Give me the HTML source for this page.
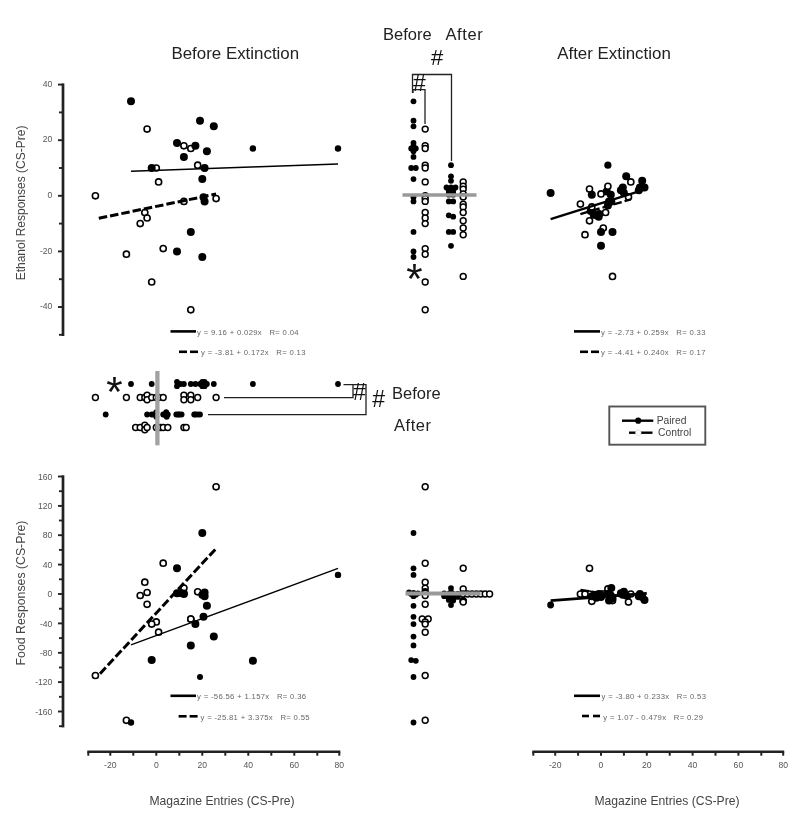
<!DOCTYPE html>
<html lang="en"><head><meta charset="utf-8"><title>Figure</title>
<style>html,body{margin:0;padding:0;background:#fff}svg{display:block;filter:blur(0.42px)}</style>
</head><body>
<svg width="800" height="835" viewBox="0 0 800 835" font-family='"Liberation Sans", Arial, Helvetica, sans-serif'>
<rect width="800" height="835" fill="#fff"/>
<text x="235.3" y="58.8" font-size="16.9" text-anchor="middle" fill="#222">Before Extinction</text>
<text x="614.0" y="58.8" font-size="16.9" text-anchor="middle" fill="#222">After Extinction</text>
<text x="383.0" y="39.6" font-size="16.5" text-anchor="start" fill="#222">Before</text>
<text x="445.5" y="39.6" font-size="16.5" text-anchor="start" fill="#222" letter-spacing="0.6">After</text>
<line x1="63.0" y1="83.4" x2="63.0" y2="336.0" stroke="#222" stroke-width="2.7" stroke-linecap="butt"/>
<line x1="59.0" y1="334.8" x2="63.0" y2="334.8" stroke="#222" stroke-width="1.9" stroke-linecap="butt"/>
<line x1="58.0" y1="307.0" x2="63.0" y2="307.0" stroke="#222" stroke-width="1.9" stroke-linecap="butt"/>
<text x="52.4" y="309.2" font-size="8.6" text-anchor="end" fill="#555">-40</text>
<line x1="59.0" y1="279.2" x2="63.0" y2="279.2" stroke="#222" stroke-width="1.9" stroke-linecap="butt"/>
<line x1="58.0" y1="251.4" x2="63.0" y2="251.4" stroke="#222" stroke-width="1.9" stroke-linecap="butt"/>
<text x="52.4" y="253.6" font-size="8.6" text-anchor="end" fill="#555">-20</text>
<line x1="59.0" y1="223.6" x2="63.0" y2="223.6" stroke="#222" stroke-width="1.9" stroke-linecap="butt"/>
<line x1="58.0" y1="195.8" x2="63.0" y2="195.8" stroke="#222" stroke-width="1.9" stroke-linecap="butt"/>
<text x="52.4" y="198.0" font-size="8.6" text-anchor="end" fill="#555">0</text>
<line x1="59.0" y1="168.0" x2="63.0" y2="168.0" stroke="#222" stroke-width="1.9" stroke-linecap="butt"/>
<line x1="58.0" y1="140.2" x2="63.0" y2="140.2" stroke="#222" stroke-width="1.9" stroke-linecap="butt"/>
<text x="52.4" y="142.4" font-size="8.6" text-anchor="end" fill="#555">20</text>
<line x1="59.0" y1="112.4" x2="63.0" y2="112.4" stroke="#222" stroke-width="1.9" stroke-linecap="butt"/>
<line x1="58.0" y1="84.6" x2="63.0" y2="84.6" stroke="#222" stroke-width="1.9" stroke-linecap="butt"/>
<text x="52.4" y="86.8" font-size="8.6" text-anchor="end" fill="#555">40</text>
<line x1="63.0" y1="475.3" x2="63.0" y2="727.4" stroke="#222" stroke-width="2.7" stroke-linecap="butt"/>
<line x1="59.0" y1="726.2" x2="63.0" y2="726.2" stroke="#222" stroke-width="1.9" stroke-linecap="butt"/>
<line x1="58.0" y1="711.5" x2="63.0" y2="711.5" stroke="#222" stroke-width="1.9" stroke-linecap="butt"/>
<text x="52.4" y="714.6" font-size="8.6" text-anchor="end" fill="#555">-160</text>
<line x1="59.0" y1="696.8" x2="63.0" y2="696.8" stroke="#222" stroke-width="1.9" stroke-linecap="butt"/>
<line x1="58.0" y1="682.1" x2="63.0" y2="682.1" stroke="#222" stroke-width="1.9" stroke-linecap="butt"/>
<text x="52.4" y="685.2" font-size="8.6" text-anchor="end" fill="#555">-120</text>
<line x1="59.0" y1="667.5" x2="63.0" y2="667.5" stroke="#222" stroke-width="1.9" stroke-linecap="butt"/>
<line x1="58.0" y1="652.8" x2="63.0" y2="652.8" stroke="#222" stroke-width="1.9" stroke-linecap="butt"/>
<text x="52.4" y="655.9" font-size="8.6" text-anchor="end" fill="#555">-80</text>
<line x1="59.0" y1="638.1" x2="63.0" y2="638.1" stroke="#222" stroke-width="1.9" stroke-linecap="butt"/>
<line x1="58.0" y1="623.4" x2="63.0" y2="623.4" stroke="#222" stroke-width="1.9" stroke-linecap="butt"/>
<text x="52.4" y="626.5" font-size="8.6" text-anchor="end" fill="#555">-40</text>
<line x1="59.0" y1="608.7" x2="63.0" y2="608.7" stroke="#222" stroke-width="1.9" stroke-linecap="butt"/>
<line x1="58.0" y1="594.0" x2="63.0" y2="594.0" stroke="#222" stroke-width="1.9" stroke-linecap="butt"/>
<text x="52.4" y="597.1" font-size="8.6" text-anchor="end" fill="#555">0</text>
<line x1="59.0" y1="579.3" x2="63.0" y2="579.3" stroke="#222" stroke-width="1.9" stroke-linecap="butt"/>
<line x1="58.0" y1="564.6" x2="63.0" y2="564.6" stroke="#222" stroke-width="1.9" stroke-linecap="butt"/>
<text x="52.4" y="567.7" font-size="8.6" text-anchor="end" fill="#555">40</text>
<line x1="59.0" y1="549.9" x2="63.0" y2="549.9" stroke="#222" stroke-width="1.9" stroke-linecap="butt"/>
<line x1="58.0" y1="535.2" x2="63.0" y2="535.2" stroke="#222" stroke-width="1.9" stroke-linecap="butt"/>
<text x="52.4" y="538.3" font-size="8.6" text-anchor="end" fill="#555">80</text>
<line x1="59.0" y1="520.5" x2="63.0" y2="520.5" stroke="#222" stroke-width="1.9" stroke-linecap="butt"/>
<line x1="58.0" y1="505.9" x2="63.0" y2="505.9" stroke="#222" stroke-width="1.9" stroke-linecap="butt"/>
<text x="52.4" y="509.0" font-size="8.6" text-anchor="end" fill="#555">120</text>
<line x1="59.0" y1="491.2" x2="63.0" y2="491.2" stroke="#222" stroke-width="1.9" stroke-linecap="butt"/>
<line x1="58.0" y1="476.5" x2="63.0" y2="476.5" stroke="#222" stroke-width="1.9" stroke-linecap="butt"/>
<text x="52.4" y="479.6" font-size="8.6" text-anchor="end" fill="#555">160</text>
<line x1="87.3" y1="751.7" x2="340.3" y2="751.7" stroke="#222" stroke-width="2.6" stroke-linecap="butt"/>
<line x1="88.3" y1="751.7" x2="88.3" y2="755.7" stroke="#222" stroke-width="2.0" stroke-linecap="butt"/>
<line x1="110.3" y1="751.7" x2="110.3" y2="755.7" stroke="#222" stroke-width="2.0" stroke-linecap="butt"/>
<text x="110.3" y="767.7" font-size="8.6" text-anchor="middle" fill="#555">-20</text>
<line x1="133.3" y1="751.7" x2="133.3" y2="755.7" stroke="#222" stroke-width="2.0" stroke-linecap="butt"/>
<line x1="156.3" y1="751.7" x2="156.3" y2="755.7" stroke="#222" stroke-width="2.0" stroke-linecap="butt"/>
<text x="156.3" y="767.7" font-size="8.6" text-anchor="middle" fill="#555">0</text>
<line x1="179.3" y1="751.7" x2="179.3" y2="755.7" stroke="#222" stroke-width="2.0" stroke-linecap="butt"/>
<line x1="202.3" y1="751.7" x2="202.3" y2="755.7" stroke="#222" stroke-width="2.0" stroke-linecap="butt"/>
<text x="202.3" y="767.7" font-size="8.6" text-anchor="middle" fill="#555">20</text>
<line x1="225.3" y1="751.7" x2="225.3" y2="755.7" stroke="#222" stroke-width="2.0" stroke-linecap="butt"/>
<line x1="248.3" y1="751.7" x2="248.3" y2="755.7" stroke="#222" stroke-width="2.0" stroke-linecap="butt"/>
<text x="248.3" y="767.7" font-size="8.6" text-anchor="middle" fill="#555">40</text>
<line x1="271.3" y1="751.7" x2="271.3" y2="755.7" stroke="#222" stroke-width="2.0" stroke-linecap="butt"/>
<line x1="294.3" y1="751.7" x2="294.3" y2="755.7" stroke="#222" stroke-width="2.0" stroke-linecap="butt"/>
<text x="294.3" y="767.7" font-size="8.6" text-anchor="middle" fill="#555">60</text>
<line x1="317.3" y1="751.7" x2="317.3" y2="755.7" stroke="#222" stroke-width="2.0" stroke-linecap="butt"/>
<line x1="339.3" y1="751.7" x2="339.3" y2="755.7" stroke="#222" stroke-width="2.0" stroke-linecap="butt"/>
<text x="339.3" y="767.7" font-size="8.6" text-anchor="middle" fill="#555">80</text>
<line x1="532.3" y1="751.7" x2="784.2" y2="751.7" stroke="#222" stroke-width="2.6" stroke-linecap="butt"/>
<line x1="533.3" y1="751.7" x2="533.3" y2="755.7" stroke="#222" stroke-width="2.0" stroke-linecap="butt"/>
<line x1="555.2" y1="751.7" x2="555.2" y2="755.7" stroke="#222" stroke-width="2.0" stroke-linecap="butt"/>
<text x="555.2" y="767.7" font-size="8.6" text-anchor="middle" fill="#555">-20</text>
<line x1="578.1" y1="751.7" x2="578.1" y2="755.7" stroke="#222" stroke-width="2.0" stroke-linecap="butt"/>
<line x1="601.0" y1="751.7" x2="601.0" y2="755.7" stroke="#222" stroke-width="2.0" stroke-linecap="butt"/>
<text x="601.0" y="767.7" font-size="8.6" text-anchor="middle" fill="#555">0</text>
<line x1="623.9" y1="751.7" x2="623.9" y2="755.7" stroke="#222" stroke-width="2.0" stroke-linecap="butt"/>
<line x1="646.8" y1="751.7" x2="646.8" y2="755.7" stroke="#222" stroke-width="2.0" stroke-linecap="butt"/>
<text x="646.8" y="767.7" font-size="8.6" text-anchor="middle" fill="#555">20</text>
<line x1="669.7" y1="751.7" x2="669.7" y2="755.7" stroke="#222" stroke-width="2.0" stroke-linecap="butt"/>
<line x1="692.6" y1="751.7" x2="692.6" y2="755.7" stroke="#222" stroke-width="2.0" stroke-linecap="butt"/>
<text x="692.6" y="767.7" font-size="8.6" text-anchor="middle" fill="#555">40</text>
<line x1="715.5" y1="751.7" x2="715.5" y2="755.7" stroke="#222" stroke-width="2.0" stroke-linecap="butt"/>
<line x1="738.4" y1="751.7" x2="738.4" y2="755.7" stroke="#222" stroke-width="2.0" stroke-linecap="butt"/>
<text x="738.4" y="767.7" font-size="8.6" text-anchor="middle" fill="#555">60</text>
<line x1="761.3" y1="751.7" x2="761.3" y2="755.7" stroke="#222" stroke-width="2.0" stroke-linecap="butt"/>
<line x1="783.2" y1="751.7" x2="783.2" y2="755.7" stroke="#222" stroke-width="2.0" stroke-linecap="butt"/>
<text x="783.2" y="767.7" font-size="8.6" text-anchor="middle" fill="#555">80</text>
<text x="0.0" y="0.0" font-size="12.0" text-anchor="middle" fill="#444" transform="translate(25.3,203) rotate(-90)">Ethanol Responses (CS-Pre)</text>
<text x="0.0" y="0.0" font-size="12.3" text-anchor="middle" fill="#444" transform="translate(25.3,593) rotate(-90)">Food Responses (CS-Pre)</text>
<text x="222.0" y="805.3" font-size="12.15" text-anchor="middle" fill="#444">Magazine Entries (CS-Pre)</text>
<text x="667.0" y="805.3" font-size="12.15" text-anchor="middle" fill="#444">Magazine Entries (CS-Pre)</text>
<circle cx="147.1" cy="129.1" r="3.05" fill="#fff" stroke="#000" stroke-width="1.6"/>
<circle cx="183.9" cy="145.8" r="3.05" fill="#fff" stroke="#000" stroke-width="1.6"/>
<circle cx="190.8" cy="148.5" r="3.05" fill="#fff" stroke="#000" stroke-width="1.6"/>
<circle cx="156.3" cy="168.0" r="3.05" fill="#fff" stroke="#000" stroke-width="1.6"/>
<circle cx="197.7" cy="165.2" r="3.05" fill="#fff" stroke="#000" stroke-width="1.6"/>
<circle cx="158.6" cy="181.9" r="3.05" fill="#fff" stroke="#000" stroke-width="1.6"/>
<circle cx="95.4" cy="195.8" r="3.05" fill="#fff" stroke="#000" stroke-width="1.6"/>
<circle cx="183.9" cy="201.4" r="3.05" fill="#fff" stroke="#000" stroke-width="1.6"/>
<circle cx="216.1" cy="198.6" r="3.05" fill="#fff" stroke="#000" stroke-width="1.6"/>
<circle cx="144.8" cy="212.5" r="3.05" fill="#fff" stroke="#000" stroke-width="1.6"/>
<circle cx="147.1" cy="218.0" r="3.05" fill="#fff" stroke="#000" stroke-width="1.6"/>
<circle cx="140.2" cy="223.6" r="3.05" fill="#fff" stroke="#000" stroke-width="1.6"/>
<circle cx="126.4" cy="254.2" r="3.05" fill="#fff" stroke="#000" stroke-width="1.6"/>
<circle cx="163.2" cy="248.6" r="3.05" fill="#fff" stroke="#000" stroke-width="1.6"/>
<circle cx="151.7" cy="282.0" r="3.05" fill="#fff" stroke="#000" stroke-width="1.6"/>
<circle cx="190.8" cy="309.8" r="3.05" fill="#fff" stroke="#000" stroke-width="1.6"/>
<circle cx="131.0" cy="101.3" r="4.0" fill="#000"/>
<circle cx="200.0" cy="120.7" r="4.0" fill="#000"/>
<circle cx="213.8" cy="126.3" r="4.0" fill="#000"/>
<circle cx="177.0" cy="143.0" r="4.0" fill="#000"/>
<circle cx="195.4" cy="145.8" r="4.0" fill="#000"/>
<circle cx="206.9" cy="151.3" r="4.0" fill="#000"/>
<circle cx="183.9" cy="156.9" r="4.0" fill="#000"/>
<circle cx="151.7" cy="168.0" r="4.0" fill="#000"/>
<circle cx="204.6" cy="168.0" r="4.0" fill="#000"/>
<circle cx="202.3" cy="179.1" r="4.0" fill="#000"/>
<circle cx="203.5" cy="197.2" r="4.0" fill="#000"/>
<circle cx="204.6" cy="201.4" r="4.0" fill="#000"/>
<circle cx="190.8" cy="231.9" r="4.0" fill="#000"/>
<circle cx="177.0" cy="251.4" r="4.0" fill="#000"/>
<circle cx="202.3" cy="257.0" r="4.0" fill="#000"/>
<circle cx="252.9" cy="148.5" r="3.2" fill="#000"/>
<circle cx="338.0" cy="148.5" r="3.2" fill="#000"/>
<circle cx="147.1" cy="592.5" r="3.05" fill="#fff" stroke="#000" stroke-width="1.6"/>
<circle cx="183.9" cy="588.1" r="3.05" fill="#fff" stroke="#000" stroke-width="1.6"/>
<circle cx="190.8" cy="619.0" r="3.05" fill="#fff" stroke="#000" stroke-width="1.6"/>
<circle cx="156.3" cy="621.9" r="3.05" fill="#fff" stroke="#000" stroke-width="1.6"/>
<circle cx="197.7" cy="591.8" r="3.05" fill="#fff" stroke="#000" stroke-width="1.6"/>
<circle cx="158.6" cy="632.2" r="3.05" fill="#fff" stroke="#000" stroke-width="1.6"/>
<circle cx="95.4" cy="675.5" r="3.05" fill="#fff" stroke="#000" stroke-width="1.6"/>
<circle cx="183.9" cy="593.3" r="3.05" fill="#fff" stroke="#000" stroke-width="1.6"/>
<circle cx="216.1" cy="486.8" r="3.05" fill="#fff" stroke="#000" stroke-width="1.6"/>
<circle cx="144.8" cy="582.2" r="3.05" fill="#fff" stroke="#000" stroke-width="1.6"/>
<circle cx="147.1" cy="604.3" r="3.05" fill="#fff" stroke="#000" stroke-width="1.6"/>
<circle cx="140.2" cy="595.5" r="3.05" fill="#fff" stroke="#000" stroke-width="1.6"/>
<circle cx="126.4" cy="720.3" r="3.05" fill="#fff" stroke="#000" stroke-width="1.6"/>
<circle cx="163.2" cy="563.2" r="3.05" fill="#fff" stroke="#000" stroke-width="1.6"/>
<circle cx="151.7" cy="624.1" r="3.05" fill="#fff" stroke="#000" stroke-width="1.6"/>
<circle cx="190.8" cy="619.0" r="3.05" fill="#fff" stroke="#000" stroke-width="1.6"/>
<circle cx="131.0" cy="722.5" r="3.2" fill="#000"/>
<circle cx="200.0" cy="677.0" r="3.0" fill="#000"/>
<circle cx="213.8" cy="636.6" r="4.0" fill="#000"/>
<circle cx="177.0" cy="568.3" r="4.0" fill="#000"/>
<circle cx="195.4" cy="624.1" r="4.0" fill="#000"/>
<circle cx="206.9" cy="605.8" r="4.0" fill="#000"/>
<circle cx="183.9" cy="594.0" r="4.0" fill="#000"/>
<circle cx="151.7" cy="660.1" r="4.0" fill="#000"/>
<circle cx="204.6" cy="592.5" r="4.0" fill="#000"/>
<circle cx="202.3" cy="533.0" r="4.0" fill="#000"/>
<circle cx="203.5" cy="616.8" r="4.0" fill="#000"/>
<circle cx="204.6" cy="596.2" r="4.0" fill="#000"/>
<circle cx="190.8" cy="645.4" r="4.0" fill="#000"/>
<circle cx="177.0" cy="593.3" r="4.0" fill="#000"/>
<circle cx="202.3" cy="594.7" r="4.0" fill="#000"/>
<circle cx="252.9" cy="660.8" r="4.0" fill="#000"/>
<circle cx="338.0" cy="574.9" r="3.2" fill="#000"/>
<circle cx="180.5" cy="592.9" r="4.0" fill="#000"/>
<circle cx="606.7" cy="191.6" r="4.0" fill="#000"/>
<circle cx="607.9" cy="205.5" r="4.0" fill="#000"/>
<circle cx="593.7" cy="214.7" r="4.0" fill="#000"/>
<circle cx="599.2" cy="213.9" r="4.0" fill="#000"/>
<circle cx="590.7" cy="211.1" r="4.0" fill="#000"/>
<circle cx="607.9" cy="186.3" r="3.05" fill="#fff" stroke="#000" stroke-width="1.6"/>
<circle cx="630.8" cy="181.9" r="3.05" fill="#fff" stroke="#000" stroke-width="1.6"/>
<circle cx="589.5" cy="189.1" r="3.05" fill="#fff" stroke="#000" stroke-width="1.6"/>
<circle cx="601.0" cy="193.9" r="3.05" fill="#fff" stroke="#000" stroke-width="1.6"/>
<circle cx="580.4" cy="204.1" r="3.05" fill="#fff" stroke="#000" stroke-width="1.6"/>
<circle cx="628.5" cy="196.9" r="3.05" fill="#fff" stroke="#000" stroke-width="1.6"/>
<circle cx="591.8" cy="206.9" r="3.05" fill="#fff" stroke="#000" stroke-width="1.6"/>
<circle cx="605.6" cy="212.5" r="3.05" fill="#fff" stroke="#000" stroke-width="1.6"/>
<circle cx="589.5" cy="220.8" r="3.05" fill="#fff" stroke="#000" stroke-width="1.6"/>
<circle cx="603.3" cy="228.0" r="3.05" fill="#fff" stroke="#000" stroke-width="1.6"/>
<circle cx="585.0" cy="234.7" r="3.05" fill="#fff" stroke="#000" stroke-width="1.6"/>
<circle cx="612.5" cy="276.4" r="3.05" fill="#fff" stroke="#000" stroke-width="1.6"/>
<circle cx="607.9" cy="165.2" r="3.6" fill="#000"/>
<circle cx="550.6" cy="193.0" r="4.0" fill="#000"/>
<circle cx="626.2" cy="176.3" r="4.0" fill="#000"/>
<circle cx="642.2" cy="180.8" r="4.0" fill="#000"/>
<circle cx="639.9" cy="187.5" r="4.0" fill="#000"/>
<circle cx="644.5" cy="187.5" r="4.0" fill="#000"/>
<circle cx="622.8" cy="187.5" r="4.0" fill="#000"/>
<circle cx="620.9" cy="190.2" r="4.0" fill="#000"/>
<circle cx="610.8" cy="194.7" r="4.0" fill="#000"/>
<circle cx="591.8" cy="194.7" r="4.0" fill="#000"/>
<circle cx="609.0" cy="201.4" r="4.0" fill="#000"/>
<circle cx="611.3" cy="201.4" r="4.0" fill="#000"/>
<circle cx="596.4" cy="215.3" r="4.0" fill="#000"/>
<circle cx="598.7" cy="216.7" r="4.0" fill="#000"/>
<circle cx="601.0" cy="231.9" r="4.0" fill="#000"/>
<circle cx="612.5" cy="231.9" r="4.0" fill="#000"/>
<circle cx="601.0" cy="245.8" r="4.0" fill="#000"/>
<circle cx="623.9" cy="193.0" r="4.0" fill="#000"/>
<circle cx="638.8" cy="190.2" r="4.0" fill="#000"/>
<circle cx="607.9" cy="588.9" r="3.05" fill="#fff" stroke="#000" stroke-width="1.6"/>
<circle cx="630.8" cy="594.0" r="3.05" fill="#fff" stroke="#000" stroke-width="1.6"/>
<circle cx="589.5" cy="568.3" r="3.05" fill="#fff" stroke="#000" stroke-width="1.6"/>
<circle cx="601.0" cy="594.0" r="3.05" fill="#fff" stroke="#000" stroke-width="1.6"/>
<circle cx="580.4" cy="594.0" r="3.05" fill="#fff" stroke="#000" stroke-width="1.6"/>
<circle cx="628.5" cy="602.1" r="3.05" fill="#fff" stroke="#000" stroke-width="1.6"/>
<circle cx="591.8" cy="601.3" r="3.05" fill="#fff" stroke="#000" stroke-width="1.6"/>
<circle cx="605.6" cy="594.0" r="3.05" fill="#fff" stroke="#000" stroke-width="1.6"/>
<circle cx="589.5" cy="594.0" r="3.05" fill="#fff" stroke="#000" stroke-width="1.6"/>
<circle cx="603.3" cy="594.0" r="3.05" fill="#fff" stroke="#000" stroke-width="1.6"/>
<circle cx="585.0" cy="594.0" r="3.05" fill="#fff" stroke="#000" stroke-width="1.6"/>
<circle cx="612.5" cy="600.6" r="3.05" fill="#fff" stroke="#000" stroke-width="1.6"/>
<circle cx="607.9" cy="594.0" r="4.0" fill="#000"/>
<circle cx="550.6" cy="605.0" r="3.4" fill="#000"/>
<circle cx="626.2" cy="595.5" r="4.0" fill="#000"/>
<circle cx="642.2" cy="596.9" r="4.0" fill="#000"/>
<circle cx="639.9" cy="594.0" r="4.0" fill="#000"/>
<circle cx="644.5" cy="599.9" r="4.0" fill="#000"/>
<circle cx="622.8" cy="594.7" r="4.0" fill="#000"/>
<circle cx="620.9" cy="593.3" r="4.0" fill="#000"/>
<circle cx="610.8" cy="595.5" r="4.0" fill="#000"/>
<circle cx="591.8" cy="596.2" r="4.0" fill="#000"/>
<circle cx="609.0" cy="600.6" r="4.0" fill="#000"/>
<circle cx="611.3" cy="588.1" r="4.0" fill="#000"/>
<circle cx="596.4" cy="597.7" r="4.0" fill="#000"/>
<circle cx="598.7" cy="594.0" r="4.0" fill="#000"/>
<circle cx="601.0" cy="596.9" r="4.0" fill="#000"/>
<circle cx="612.5" cy="598.4" r="4.0" fill="#000"/>
<circle cx="601.0" cy="595.5" r="4.0" fill="#000"/>
<circle cx="623.9" cy="591.8" r="4.0" fill="#000"/>
<circle cx="638.8" cy="596.2" r="4.0" fill="#000"/>
<line x1="131.0" y1="171.2" x2="338.0" y2="164.0" stroke="#000" stroke-width="1.4" stroke-linecap="butt"/>
<line x1="98.8" y1="218.3" x2="216.1" y2="194.0" stroke="#000" stroke-width="3" stroke-linecap="butt" stroke-dasharray="8.5 3"/>
<line x1="131.0" y1="644.9" x2="338.0" y2="568.4" stroke="#000" stroke-width="1.4" stroke-linecap="butt"/>
<line x1="100.0" y1="673.7" x2="217.2" y2="547.3" stroke="#000" stroke-width="3" stroke-linecap="butt" stroke-dasharray="8.5 3"/>
<line x1="550.6" y1="219.2" x2="644.5" y2="189.7" stroke="#000" stroke-width="2.3" stroke-linecap="butt"/>
<line x1="580.4" y1="214.1" x2="630.8" y2="199.4" stroke="#000" stroke-width="2.4" stroke-linecap="butt" stroke-dasharray="8.5 3"/>
<line x1="550.6" y1="600.6" x2="646.8" y2="593.4" stroke="#000" stroke-width="2.6" stroke-linecap="butt"/>
<line x1="580.4" y1="590.0" x2="630.8" y2="597.8" stroke="#000" stroke-width="2.6" stroke-linecap="butt" stroke-dasharray="8.5 3"/>
<circle cx="413.5" cy="101.3" r="2.9" fill="#000"/>
<circle cx="413.5" cy="120.7" r="2.9" fill="#000"/>
<circle cx="413.5" cy="126.3" r="2.9" fill="#000"/>
<circle cx="413.5" cy="143.0" r="2.9" fill="#000"/>
<circle cx="413.5" cy="145.8" r="2.9" fill="#000"/>
<circle cx="411.2" cy="148.5" r="2.9" fill="#000"/>
<circle cx="415.8" cy="148.5" r="2.9" fill="#000"/>
<circle cx="413.5" cy="151.3" r="2.9" fill="#000"/>
<circle cx="413.5" cy="156.9" r="2.9" fill="#000"/>
<circle cx="411.2" cy="168.0" r="2.9" fill="#000"/>
<circle cx="415.8" cy="168.0" r="2.9" fill="#000"/>
<circle cx="413.5" cy="179.1" r="2.9" fill="#000"/>
<circle cx="413.5" cy="197.2" r="2.9" fill="#000"/>
<circle cx="413.5" cy="201.4" r="2.9" fill="#000"/>
<circle cx="413.5" cy="231.9" r="2.9" fill="#000"/>
<circle cx="413.5" cy="251.4" r="2.9" fill="#000"/>
<circle cx="413.5" cy="257.0" r="2.9" fill="#000"/>
<circle cx="425.2" cy="129.1" r="2.95" fill="#fff" stroke="#000" stroke-width="1.5"/>
<circle cx="425.2" cy="145.8" r="2.95" fill="#fff" stroke="#000" stroke-width="1.5"/>
<circle cx="425.2" cy="148.5" r="2.95" fill="#fff" stroke="#000" stroke-width="1.5"/>
<circle cx="425.2" cy="165.2" r="2.95" fill="#fff" stroke="#000" stroke-width="1.5"/>
<circle cx="425.2" cy="168.0" r="2.95" fill="#fff" stroke="#000" stroke-width="1.5"/>
<circle cx="425.2" cy="181.9" r="2.95" fill="#fff" stroke="#000" stroke-width="1.5"/>
<circle cx="425.2" cy="195.8" r="2.95" fill="#fff" stroke="#000" stroke-width="1.5"/>
<circle cx="425.2" cy="198.6" r="2.95" fill="#fff" stroke="#000" stroke-width="1.5"/>
<circle cx="425.2" cy="201.4" r="2.95" fill="#fff" stroke="#000" stroke-width="1.5"/>
<circle cx="425.2" cy="212.5" r="2.95" fill="#fff" stroke="#000" stroke-width="1.5"/>
<circle cx="425.2" cy="218.0" r="2.95" fill="#fff" stroke="#000" stroke-width="1.5"/>
<circle cx="425.2" cy="223.6" r="2.95" fill="#fff" stroke="#000" stroke-width="1.5"/>
<circle cx="425.2" cy="248.6" r="2.95" fill="#fff" stroke="#000" stroke-width="1.5"/>
<circle cx="425.2" cy="254.2" r="2.95" fill="#fff" stroke="#000" stroke-width="1.5"/>
<circle cx="425.2" cy="282.0" r="2.95" fill="#fff" stroke="#000" stroke-width="1.5"/>
<circle cx="425.2" cy="309.8" r="2.95" fill="#fff" stroke="#000" stroke-width="1.5"/>
<circle cx="451.0" cy="165.2" r="2.9" fill="#000"/>
<circle cx="451.0" cy="176.3" r="2.9" fill="#000"/>
<circle cx="451.0" cy="180.8" r="2.9" fill="#000"/>
<circle cx="446.5" cy="187.5" r="2.9" fill="#000"/>
<circle cx="451.0" cy="187.5" r="2.9" fill="#000"/>
<circle cx="455.5" cy="187.5" r="2.9" fill="#000"/>
<circle cx="448.8" cy="190.2" r="2.9" fill="#000"/>
<circle cx="453.2" cy="190.2" r="2.9" fill="#000"/>
<circle cx="448.8" cy="193.0" r="2.9" fill="#000"/>
<circle cx="453.2" cy="193.0" r="2.9" fill="#000"/>
<circle cx="448.8" cy="194.7" r="2.9" fill="#000"/>
<circle cx="453.2" cy="194.7" r="2.9" fill="#000"/>
<circle cx="448.8" cy="201.4" r="2.9" fill="#000"/>
<circle cx="453.2" cy="201.4" r="2.9" fill="#000"/>
<circle cx="448.8" cy="215.3" r="2.9" fill="#000"/>
<circle cx="453.2" cy="216.7" r="2.9" fill="#000"/>
<circle cx="448.8" cy="231.9" r="2.9" fill="#000"/>
<circle cx="453.2" cy="231.9" r="2.9" fill="#000"/>
<circle cx="451.0" cy="245.8" r="2.9" fill="#000"/>
<circle cx="463.2" cy="181.9" r="2.95" fill="#fff" stroke="#000" stroke-width="1.5"/>
<circle cx="463.2" cy="186.3" r="2.95" fill="#fff" stroke="#000" stroke-width="1.5"/>
<circle cx="463.2" cy="189.1" r="2.95" fill="#fff" stroke="#000" stroke-width="1.5"/>
<circle cx="463.2" cy="193.9" r="2.95" fill="#fff" stroke="#000" stroke-width="1.5"/>
<circle cx="463.2" cy="196.9" r="2.95" fill="#fff" stroke="#000" stroke-width="1.5"/>
<circle cx="463.2" cy="204.1" r="2.95" fill="#fff" stroke="#000" stroke-width="1.5"/>
<circle cx="463.2" cy="206.9" r="2.95" fill="#fff" stroke="#000" stroke-width="1.5"/>
<circle cx="463.2" cy="212.5" r="2.95" fill="#fff" stroke="#000" stroke-width="1.5"/>
<circle cx="463.2" cy="220.8" r="2.95" fill="#fff" stroke="#000" stroke-width="1.5"/>
<circle cx="463.2" cy="228.0" r="2.95" fill="#fff" stroke="#000" stroke-width="1.5"/>
<circle cx="463.2" cy="234.7" r="2.95" fill="#fff" stroke="#000" stroke-width="1.5"/>
<circle cx="463.2" cy="276.4" r="2.95" fill="#fff" stroke="#000" stroke-width="1.5"/>
<circle cx="413.5" cy="533.0" r="2.9" fill="#000"/>
<circle cx="413.5" cy="568.3" r="2.9" fill="#000"/>
<circle cx="413.5" cy="574.9" r="2.9" fill="#000"/>
<circle cx="409.0" cy="592.5" r="2.9" fill="#000"/>
<circle cx="413.5" cy="592.9" r="2.9" fill="#000"/>
<circle cx="418.0" cy="593.3" r="2.9" fill="#000"/>
<circle cx="411.2" cy="594.0" r="2.9" fill="#000"/>
<circle cx="415.8" cy="594.7" r="2.9" fill="#000"/>
<circle cx="413.5" cy="596.2" r="2.9" fill="#000"/>
<circle cx="413.5" cy="605.8" r="2.9" fill="#000"/>
<circle cx="413.5" cy="616.8" r="2.9" fill="#000"/>
<circle cx="413.5" cy="624.1" r="2.9" fill="#000"/>
<circle cx="413.5" cy="636.6" r="2.9" fill="#000"/>
<circle cx="413.5" cy="645.4" r="2.9" fill="#000"/>
<circle cx="411.2" cy="660.1" r="2.9" fill="#000"/>
<circle cx="415.8" cy="660.8" r="2.9" fill="#000"/>
<circle cx="413.5" cy="677.0" r="2.9" fill="#000"/>
<circle cx="413.5" cy="722.5" r="2.9" fill="#000"/>
<circle cx="425.2" cy="486.8" r="2.95" fill="#fff" stroke="#000" stroke-width="1.5"/>
<circle cx="425.2" cy="563.2" r="2.95" fill="#fff" stroke="#000" stroke-width="1.5"/>
<circle cx="425.2" cy="582.2" r="2.95" fill="#fff" stroke="#000" stroke-width="1.5"/>
<circle cx="425.2" cy="588.1" r="2.95" fill="#fff" stroke="#000" stroke-width="1.5"/>
<circle cx="425.2" cy="591.8" r="2.95" fill="#fff" stroke="#000" stroke-width="1.5"/>
<circle cx="425.2" cy="592.5" r="2.95" fill="#fff" stroke="#000" stroke-width="1.5"/>
<circle cx="425.2" cy="593.3" r="2.95" fill="#fff" stroke="#000" stroke-width="1.5"/>
<circle cx="425.2" cy="595.5" r="2.95" fill="#fff" stroke="#000" stroke-width="1.5"/>
<circle cx="425.2" cy="604.3" r="2.95" fill="#fff" stroke="#000" stroke-width="1.5"/>
<circle cx="422.2" cy="619.0" r="2.95" fill="#fff" stroke="#000" stroke-width="1.5"/>
<circle cx="428.2" cy="619.0" r="2.95" fill="#fff" stroke="#000" stroke-width="1.5"/>
<circle cx="425.2" cy="621.9" r="2.95" fill="#fff" stroke="#000" stroke-width="1.5"/>
<circle cx="425.2" cy="624.1" r="2.95" fill="#fff" stroke="#000" stroke-width="1.5"/>
<circle cx="425.2" cy="632.2" r="2.95" fill="#fff" stroke="#000" stroke-width="1.5"/>
<circle cx="425.2" cy="675.5" r="2.95" fill="#fff" stroke="#000" stroke-width="1.5"/>
<circle cx="425.2" cy="720.3" r="2.95" fill="#fff" stroke="#000" stroke-width="1.5"/>
<circle cx="451.0" cy="588.1" r="2.9" fill="#000"/>
<circle cx="451.0" cy="591.8" r="2.9" fill="#000"/>
<circle cx="444.2" cy="593.3" r="2.9" fill="#000"/>
<circle cx="448.8" cy="594.0" r="2.9" fill="#000"/>
<circle cx="453.2" cy="594.0" r="2.9" fill="#000"/>
<circle cx="457.8" cy="594.0" r="2.9" fill="#000"/>
<circle cx="444.2" cy="594.7" r="2.9" fill="#000"/>
<circle cx="448.8" cy="595.5" r="2.9" fill="#000"/>
<circle cx="453.2" cy="595.5" r="2.9" fill="#000"/>
<circle cx="457.8" cy="595.5" r="2.9" fill="#000"/>
<circle cx="444.2" cy="596.2" r="2.9" fill="#000"/>
<circle cx="448.8" cy="596.2" r="2.9" fill="#000"/>
<circle cx="453.2" cy="596.9" r="2.9" fill="#000"/>
<circle cx="457.8" cy="596.9" r="2.9" fill="#000"/>
<circle cx="448.8" cy="597.7" r="2.9" fill="#000"/>
<circle cx="453.2" cy="598.4" r="2.9" fill="#000"/>
<circle cx="448.8" cy="599.9" r="2.9" fill="#000"/>
<circle cx="453.2" cy="600.6" r="2.9" fill="#000"/>
<circle cx="451.0" cy="605.0" r="2.9" fill="#000"/>
<circle cx="463.2" cy="568.3" r="2.95" fill="#fff" stroke="#000" stroke-width="1.5"/>
<circle cx="463.2" cy="588.9" r="2.95" fill="#fff" stroke="#000" stroke-width="1.5"/>
<circle cx="463.2" cy="594.0" r="2.95" fill="#fff" stroke="#000" stroke-width="1.5"/>
<circle cx="467.6" cy="594.0" r="2.95" fill="#fff" stroke="#000" stroke-width="1.5"/>
<circle cx="472.0" cy="594.0" r="2.95" fill="#fff" stroke="#000" stroke-width="1.5"/>
<circle cx="476.4" cy="594.0" r="2.95" fill="#fff" stroke="#000" stroke-width="1.5"/>
<circle cx="480.8" cy="594.0" r="2.95" fill="#fff" stroke="#000" stroke-width="1.5"/>
<circle cx="485.2" cy="594.0" r="2.95" fill="#fff" stroke="#000" stroke-width="1.5"/>
<circle cx="489.6" cy="594.0" r="2.95" fill="#fff" stroke="#000" stroke-width="1.5"/>
<circle cx="463.2" cy="600.6" r="2.95" fill="#fff" stroke="#000" stroke-width="1.5"/>
<circle cx="463.2" cy="601.3" r="2.95" fill="#fff" stroke="#000" stroke-width="1.5"/>
<circle cx="463.2" cy="602.1" r="2.95" fill="#fff" stroke="#000" stroke-width="1.5"/>
<circle cx="131.0" cy="384.0" r="2.9" fill="#000"/>
<circle cx="151.7" cy="384.0" r="2.9" fill="#000"/>
<circle cx="177.0" cy="381.8" r="2.9" fill="#000"/>
<circle cx="177.0" cy="386.2" r="2.9" fill="#000"/>
<circle cx="180.5" cy="384.0" r="2.9" fill="#000"/>
<circle cx="183.9" cy="384.0" r="2.9" fill="#000"/>
<circle cx="190.8" cy="384.0" r="2.9" fill="#000"/>
<circle cx="195.4" cy="384.0" r="2.9" fill="#000"/>
<circle cx="200.0" cy="384.0" r="2.9" fill="#000"/>
<circle cx="202.3" cy="381.8" r="2.9" fill="#000"/>
<circle cx="202.3" cy="386.2" r="2.9" fill="#000"/>
<circle cx="203.5" cy="384.0" r="2.9" fill="#000"/>
<circle cx="204.6" cy="381.8" r="2.9" fill="#000"/>
<circle cx="204.6" cy="386.2" r="2.9" fill="#000"/>
<circle cx="206.9" cy="384.0" r="2.9" fill="#000"/>
<circle cx="213.8" cy="384.0" r="2.9" fill="#000"/>
<circle cx="252.9" cy="384.0" r="2.9" fill="#000"/>
<circle cx="338.0" cy="384.0" r="2.9" fill="#000"/>
<circle cx="95.4" cy="397.5" r="2.95" fill="#fff" stroke="#000" stroke-width="1.5"/>
<circle cx="126.4" cy="397.5" r="2.95" fill="#fff" stroke="#000" stroke-width="1.5"/>
<circle cx="140.2" cy="397.5" r="2.95" fill="#fff" stroke="#000" stroke-width="1.5"/>
<circle cx="144.8" cy="397.5" r="2.95" fill="#fff" stroke="#000" stroke-width="1.5"/>
<circle cx="147.1" cy="395.2" r="2.95" fill="#fff" stroke="#000" stroke-width="1.5"/>
<circle cx="147.1" cy="399.8" r="2.95" fill="#fff" stroke="#000" stroke-width="1.5"/>
<circle cx="151.7" cy="397.5" r="2.95" fill="#fff" stroke="#000" stroke-width="1.5"/>
<circle cx="156.3" cy="397.5" r="2.95" fill="#fff" stroke="#000" stroke-width="1.5"/>
<circle cx="158.6" cy="397.5" r="2.95" fill="#fff" stroke="#000" stroke-width="1.5"/>
<circle cx="163.2" cy="397.5" r="2.95" fill="#fff" stroke="#000" stroke-width="1.5"/>
<circle cx="183.9" cy="395.2" r="2.95" fill="#fff" stroke="#000" stroke-width="1.5"/>
<circle cx="183.9" cy="399.8" r="2.95" fill="#fff" stroke="#000" stroke-width="1.5"/>
<circle cx="190.8" cy="395.2" r="2.95" fill="#fff" stroke="#000" stroke-width="1.5"/>
<circle cx="190.8" cy="399.8" r="2.95" fill="#fff" stroke="#000" stroke-width="1.5"/>
<circle cx="197.7" cy="397.5" r="2.95" fill="#fff" stroke="#000" stroke-width="1.5"/>
<circle cx="216.1" cy="397.5" r="2.95" fill="#fff" stroke="#000" stroke-width="1.5"/>
<circle cx="105.7" cy="414.5" r="2.9" fill="#000"/>
<circle cx="147.1" cy="414.5" r="2.9" fill="#000"/>
<circle cx="151.7" cy="414.5" r="2.9" fill="#000"/>
<circle cx="154.0" cy="414.5" r="2.9" fill="#000"/>
<circle cx="156.3" cy="412.2" r="2.9" fill="#000"/>
<circle cx="156.3" cy="416.8" r="2.9" fill="#000"/>
<circle cx="163.2" cy="414.5" r="2.9" fill="#000"/>
<circle cx="164.4" cy="414.5" r="2.9" fill="#000"/>
<circle cx="166.2" cy="412.2" r="2.9" fill="#000"/>
<circle cx="166.7" cy="416.8" r="2.9" fill="#000"/>
<circle cx="167.8" cy="414.5" r="2.9" fill="#000"/>
<circle cx="176.3" cy="414.5" r="2.9" fill="#000"/>
<circle cx="178.2" cy="414.5" r="2.9" fill="#000"/>
<circle cx="179.3" cy="414.5" r="2.9" fill="#000"/>
<circle cx="181.6" cy="414.5" r="2.9" fill="#000"/>
<circle cx="194.2" cy="414.5" r="2.9" fill="#000"/>
<circle cx="195.4" cy="414.5" r="2.9" fill="#000"/>
<circle cx="197.7" cy="414.5" r="2.9" fill="#000"/>
<circle cx="200.0" cy="414.5" r="2.9" fill="#000"/>
<circle cx="135.6" cy="427.5" r="2.95" fill="#fff" stroke="#000" stroke-width="1.5"/>
<circle cx="140.2" cy="427.5" r="2.95" fill="#fff" stroke="#000" stroke-width="1.5"/>
<circle cx="144.8" cy="425.2" r="2.95" fill="#fff" stroke="#000" stroke-width="1.5"/>
<circle cx="144.8" cy="429.8" r="2.95" fill="#fff" stroke="#000" stroke-width="1.5"/>
<circle cx="147.1" cy="427.5" r="2.95" fill="#fff" stroke="#000" stroke-width="1.5"/>
<circle cx="156.3" cy="427.5" r="2.95" fill="#fff" stroke="#000" stroke-width="1.5"/>
<circle cx="158.6" cy="427.5" r="2.95" fill="#fff" stroke="#000" stroke-width="1.5"/>
<circle cx="160.9" cy="427.5" r="2.95" fill="#fff" stroke="#000" stroke-width="1.5"/>
<circle cx="163.2" cy="427.5" r="2.95" fill="#fff" stroke="#000" stroke-width="1.5"/>
<circle cx="167.8" cy="427.5" r="2.95" fill="#fff" stroke="#000" stroke-width="1.5"/>
<circle cx="183.9" cy="427.5" r="2.95" fill="#fff" stroke="#000" stroke-width="1.5"/>
<circle cx="186.2" cy="427.5" r="2.95" fill="#fff" stroke="#000" stroke-width="1.5"/>
<line x1="402.5" y1="195.0" x2="476.5" y2="195.0" stroke="#999" stroke-width="3.6" stroke-linecap="butt"/>
<line x1="405.5" y1="593.5" x2="480.5" y2="593.5" stroke="#999" stroke-width="3.8" stroke-linecap="butt"/>
<line x1="157.4" y1="371.0" x2="157.4" y2="445.3" stroke="#a2a2a2" stroke-width="4.3" stroke-linecap="butt"/>
<polyline points="412.5,93 412.5,74.5 451.5,74.5 451.5,161" fill="none" stroke="#222" stroke-width="1.3"/>
<polyline points="413,93 413,89.7 425,89.7 425,124" fill="none" stroke="#222" stroke-width="1.3"/>
<text x="437.0" y="64.5" font-size="22" text-anchor="middle" fill="#111">#</text>
<text x="419.3" y="90.5" font-size="23" text-anchor="middle" fill="#111">#</text>
<text x="414.5" y="293.0" font-size="42" text-anchor="middle" fill="#111">*</text>
<polyline points="343.5,384.7 366,384.7 366,414.7 208,414.7" fill="none" stroke="#222" stroke-width="1.3"/>
<polyline points="353,384.7 353,397.6 224,397.6" fill="none" stroke="#222" stroke-width="1.3"/>
<text x="359.3" y="399.8" font-size="23" text-anchor="middle" fill="#111">#</text>
<text x="378.7" y="406.5" font-size="23" text-anchor="middle" fill="#111">#</text>
<text x="114.5" y="406.0" font-size="42" text-anchor="middle" fill="#111">*</text>
<text x="392.0" y="399.4" font-size="16.5" text-anchor="start" fill="#222">Before</text>
<text x="394.0" y="431.0" font-size="16.5" text-anchor="start" fill="#222" letter-spacing="0.55">After</text>
<line x1="170.5" y1="331.4" x2="196.0" y2="331.4" stroke="#000" stroke-width="2.6" stroke-linecap="butt"/>
<text x="197.0" y="335.0" font-size="7.7" text-anchor="start" fill="#666" xml:space="preserve" letter-spacing="0.33">y = 9.16 + 0.029x   R= 0.04</text>
<line x1="179.0" y1="351.8" x2="187.0" y2="351.8" stroke="#000" stroke-width="2.6" stroke-linecap="butt"/>
<line x1="190.0" y1="351.8" x2="198.0" y2="351.8" stroke="#000" stroke-width="2.6" stroke-linecap="butt"/>
<text x="201.0" y="355.4" font-size="7.7" text-anchor="start" fill="#666" xml:space="preserve" letter-spacing="0.33">y = -3.81 + 0.172x   R= 0.13</text>
<line x1="574.0" y1="331.4" x2="600.0" y2="331.4" stroke="#000" stroke-width="2.6" stroke-linecap="butt"/>
<text x="601.0" y="335.0" font-size="7.7" text-anchor="start" fill="#666" xml:space="preserve" letter-spacing="0.33">y = -2.73 + 0.259x   R= 0.33</text>
<line x1="580.0" y1="351.8" x2="588.0" y2="351.8" stroke="#000" stroke-width="2.6" stroke-linecap="butt"/>
<line x1="591.0" y1="351.8" x2="599.0" y2="351.8" stroke="#000" stroke-width="2.6" stroke-linecap="butt"/>
<text x="601.0" y="355.4" font-size="7.7" text-anchor="start" fill="#666" xml:space="preserve" letter-spacing="0.33">y = -4.41 + 0.240x   R= 0.17</text>
<line x1="170.5" y1="695.8" x2="196.0" y2="695.8" stroke="#000" stroke-width="2.6" stroke-linecap="butt"/>
<text x="197.0" y="699.4" font-size="7.7" text-anchor="start" fill="#666" xml:space="preserve" letter-spacing="0.33">y = -56.56 + 1.157x   R= 0.36</text>
<line x1="178.6" y1="716.3" x2="186.6" y2="716.3" stroke="#000" stroke-width="2.6" stroke-linecap="butt"/>
<line x1="189.6" y1="716.3" x2="197.6" y2="716.3" stroke="#000" stroke-width="2.6" stroke-linecap="butt"/>
<text x="200.5" y="719.9" font-size="7.7" text-anchor="start" fill="#666" xml:space="preserve" letter-spacing="0.33">y = -25.81 + 3.375x   R= 0.55</text>
<line x1="574.0" y1="695.8" x2="600.0" y2="695.8" stroke="#000" stroke-width="2.6" stroke-linecap="butt"/>
<text x="601.5" y="699.4" font-size="7.7" text-anchor="start" fill="#666" xml:space="preserve" letter-spacing="0.33">y = -3.80 + 0.233x   R= 0.53</text>
<line x1="582.0" y1="716.0" x2="589.0" y2="716.0" stroke="#000" stroke-width="2.6" stroke-linecap="butt"/>
<line x1="593.0" y1="716.0" x2="600.0" y2="716.0" stroke="#000" stroke-width="2.6" stroke-linecap="butt"/>
<text x="603.3" y="719.6" font-size="7.7" text-anchor="start" fill="#666" xml:space="preserve" letter-spacing="0.33">y = 1.07 - 0.479x   R= 0.29</text>
<rect x="609.3" y="406.5" width="96" height="38.2" fill="#fff" stroke="#555" stroke-width="1.9"/>
<line x1="622.0" y1="420.7" x2="653.3" y2="420.7" stroke="#000" stroke-width="2.4" stroke-linecap="butt"/>
<circle cx="638.2" cy="420.7" r="3.1" fill="#000"/>
<line x1="629.0" y1="432.7" x2="636.0" y2="432.7" stroke="#000" stroke-width="2.4" stroke-linecap="butt"/>
<line x1="641.0" y1="432.7" x2="652.5" y2="432.7" stroke="#000" stroke-width="2.4" stroke-linecap="butt"/>
<circle cx="638.3" cy="432.7" r="2.8" fill="#fff" stroke="#ccc" stroke-width="0.6"/>
<text x="656.7" y="424.3" font-size="10.3" text-anchor="start" fill="#444">Paired</text>
<text x="658.0" y="435.6" font-size="10.3" text-anchor="start" fill="#444">Control</text>
</svg>
</body></html>
